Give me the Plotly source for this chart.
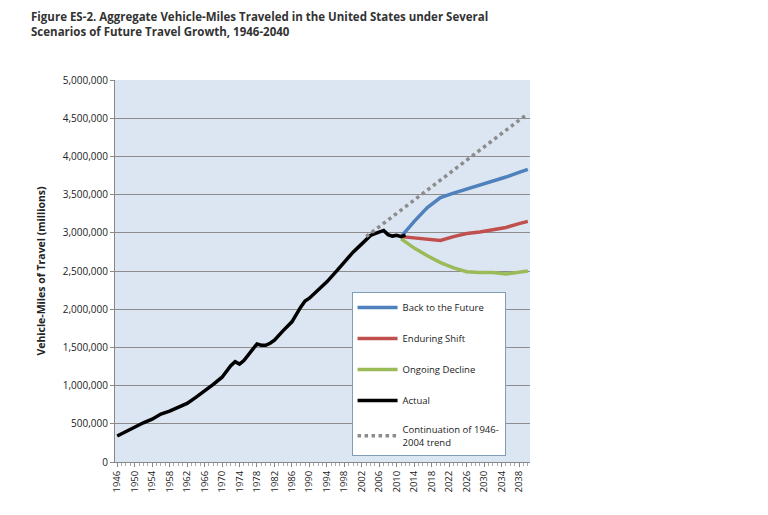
import plotly.graph_objects as go

actual_years = [1946,1948,1950,1952,1954,1956,1958,1960,1962,1964,1966,1968,1970,1972,1973,1974,1975,1976,1977,1978,1979,1980,1981,1982,1984,1986,1988,1989,1990,1992,1994,1996,1998,1999,2000,2002,2004,2005,2006,2007,2008,2009,2010,2011,2012]
actual_vals = [340000,398000,458000,513000,561000,628000,665000,719000,767000,846000,926000,1016000,1110000,1260000,1313000,1281000,1328000,1402000,1467000,1545000,1529000,1527000,1555000,1595000,1720000,1835000,2026000,2107000,2144000,2247000,2358000,2486000,2625000,2691000,2747000,2855000,2965000,2989000,3014000,3031000,2976000,2957000,2967000,2950000,2969000]

proj_years = [2011,2014,2017,2020,2023,2026,2029,2032,2035,2038,2040]
back_vals = [2950000,3150000,3330000,3460000,3520000,3570000,3620000,3670000,3730000,3790000,3830000]
shift_vals = [2950000,2930000,2920000,2900000,2950000,2990000,3010000,3040000,3070000,3120000,3150000]
decline_vals = [2920000,2800000,2700000,2610000,2540000,2490000,2480000,2480000,2460000,2490000,2500000]

trend_years = [2003,2040]
trend_vals = [2950000,4560000]

tick_years = list(range(1946, 2040, 4))

fig = go.Figure()
fig.add_trace(go.Scatter(x=proj_years, y=back_vals, mode="lines", name="Back to the Future", legendgroup="a", line=dict(color="#4f81bd", width=3.5)))
fig.add_trace(go.Scatter(x=proj_years, y=shift_vals, mode="lines", name="Enduring Shift", legendgroup="b", line=dict(color="#c0504d", width=3.5)))
fig.add_trace(go.Scatter(x=proj_years, y=decline_vals, mode="lines", name="Ongoing Decline", legendgroup="c", line=dict(color="#9bbb59", width=3.5)))
fig.add_trace(go.Scatter(x=actual_years, y=actual_vals, mode="lines", name="Actual", legendgroup="d", line=dict(color="#000000", width=3.5)))
fig.add_trace(go.Scatter(x=trend_years, y=trend_vals, mode="lines", name="Continuation of 1946-<br>2004 trend", legendgroup="e", line=dict(color="#8c8c8c", width=3.5, dash="dot")))

fig.update_layout(
    width=768, height=515,
    paper_bgcolor="white", plot_bgcolor="#dce6f2",
    margin=dict(l=107, r=246, t=72, b=61),
    font=dict(family="Open Sans, Arial, sans-serif", size=10, color="#222"),
    title=dict(text="<b>Figure ES-2. Aggregate Vehicle-Miles Traveled in the United States under Several<br>Scenarios of Future Travel Growth, 1946-2040</b>",
               x=0.03, xanchor="left", y=0.975, yanchor="top", font=dict(size=11.5, color="#333")),
    legend=dict(x=0.57, y=0.445, xanchor="left", yanchor="top", bgcolor="white",
                bordercolor="#7f9db9", borderwidth=1, tracegroupgap=12, font=dict(size=9.5),
                itemwidth=40),
    showlegend=True,
)
fig.update_xaxes(range=[1945.5, 2040.5], tickvals=tick_years, ticktext=[str(y) for y in tick_years],
                 tickangle=-90, showgrid=False, showline=True, linecolor="#888", ticks="outside",
                 ticklen=4, tickcolor="#888", minor=dict(dtick=1, ticks="outside", ticklen=3, tickcolor="#aaa"),
                 tickfont=dict(size=9.5))
fig.update_yaxes(range=[0, 5000000], dtick=500000, tickformat=",d", showgrid=True, gridcolor="#8c8c8c",
                 showline=True, linecolor="#888", ticks="outside", ticklen=4, tickcolor="#888",
                 title=dict(text="<b>Vehicle-Miles of Travel (millions)</b>", font=dict(size=10.5)),
                 tickfont=dict(size=10))
fig.write_html("out.html")
